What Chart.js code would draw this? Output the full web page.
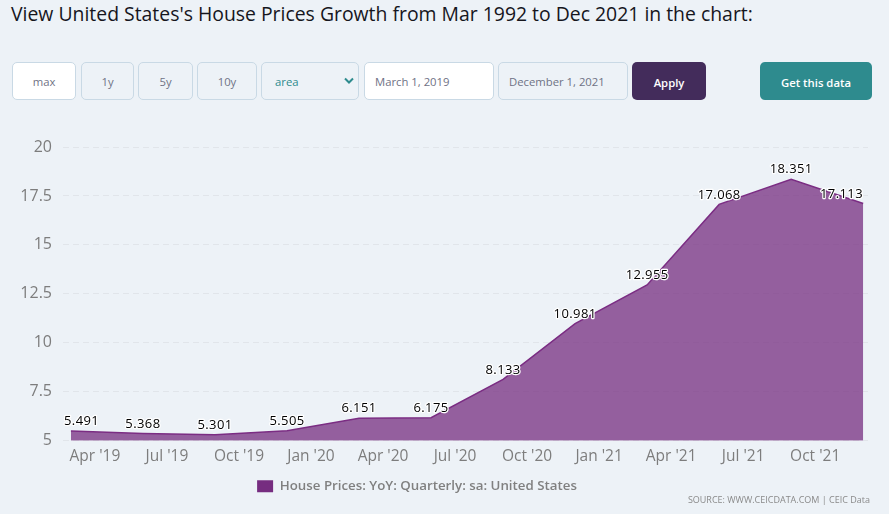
<!DOCTYPE html>
<html>
<head>
<meta charset="utf-8">
<title>House Prices Growth</title>
<script src="https://cdn.jsdelivr.net/npm/chart.js@4"></script>
<style>
  html, body { margin: 0; padding: 0; background: #edf2f7; }
  body { position: relative; width: 889px; height: 514px; overflow: hidden; font-family: "Open Sans", sans-serif; }
  h1 { position: absolute; left: 11px; top: 1px; margin: 0; font-size: 19.4px; line-height: 26px; font-weight: 500; color: #16161d; white-space: nowrap; }
  .ctl { position: absolute; top: 62px; height: 38px; box-sizing: border-box; border: 1px solid #c9d9e5; border-radius: 5px;
         font-size: 11.3px; line-height: 37px; text-align: center; color: #6f7285; }
  .white { background: #fff; }
  .left { text-align: left; padding-left: 10px; }
  .solid { border: 0; color: #fff; font-weight: 600; line-height: 41px; }
  #chart { position: absolute; left: 0; top: 120px; }
  #source { position: absolute; right: 19px; top: 493px; font-size: 9px; color: #8a8a8a; white-space: nowrap; }
</style>
</head>
<body>
<h1>View United States's House Prices Growth from Mar 1992 to Dec 2021 in the chart:</h1>
<div class="ctl white" style="left:12px;width:64px">max</div>
<div class="ctl" style="left:81px;width:53px">1y</div>
<div class="ctl" style="left:138px;width:55px">5y</div>
<div class="ctl" style="left:197px;width:60px">10y</div>
<div class="ctl left" style="left:261px;width:98px;color:#2e8b8e;padding-left:13px">area
  <svg width="12" height="8" viewBox="0 0 12 8" style="position:absolute;right:3px;top:14px"><path d="M2 1.5 L6 5.5 L10 1.5" fill="none" stroke="#2e8b8e" stroke-width="2"/></svg>
</div>
<div class="ctl white left" style="left:364px;width:130px">March 1, 2019</div>
<div class="ctl left" style="left:498px;width:130px">December 1, 2021</div>
<div class="ctl solid" style="left:632px;width:74px;background:#432c5b">Apply</div>
<div class="ctl solid" style="left:760px;width:112px;background:#2e8b8e">Get this data</div>
<canvas id="chart" width="889" height="394"></canvas>
<div id="source">SOURCE: WWW.CEICDATA.COM | CEIC Data</div>

<script>
// months counted from Mar 2019
const pointMonths = [0, 3, 6, 9, 12, 15, 18, 21, 24, 27, 30, 33];
const seriesValues = [5.491, 5.368, 5.301, 5.505, 6.151, 6.175, 8.133, 10.981, 12.955, 17.068, 18.351, 17.113];
const tickMonths = [1, 4, 7, 10, 13, 16, 19, 22, 25, 28, 31];
const tickLabels = ["Apr '19", "Jul '19", "Oct '19", "Jan '20", "Apr '20", "Jul '20", "Oct '20", "Jan '21", "Apr '21", "Jul '21", "Oct '21"];
const yTicks = [5, 7.5, 10, 12.5, 15, 17.5, 20];
const seriesName = 'House Prices: YoY: Quarterly: sa: United States';

// etiquetas de valor con halo blanco, ajustadas para no salirse del área
const pointLabels = {
    id: 'pointLabels',
    afterDatasetsDraw(chart) {
        const { ctx, chartArea } = chart;
        const meta = chart.getDatasetMeta(0);
        ctx.save();
        ctx.font = '13px "Open Sans", sans-serif';
        ctx.letterSpacing = '0.4px';
        ctx.textAlign = 'center';
        ctx.textBaseline = 'bottom';
        ctx.lineJoin = 'round';
        meta.data.forEach((pt, i) => {
            const text = seriesValues[i].toFixed(3);
            const half = ctx.measureText(text).width / 2;
            const x = Math.min(Math.max(pt.x, half + chartArea.left + 1), chartArea.right - half - 5);
            ctx.lineWidth = 2.5;
            ctx.strokeStyle = '#fff';
            ctx.strokeText(text, x, pt.y - 3);
            ctx.fillStyle = '#000';
            ctx.fillText(text, x, pt.y - 3);
        });
        ctx.restore();
    }
};

// la leyenda original no está centrada en el lienzo
const shiftLegend = {
    id: 'shiftLegend',
    afterLayout(chart) {
        chart.legend.left -= 17;
        chart.legend.right -= 17;
        chart.legend.top -= 3;
        chart.legend.bottom -= 3;
    }
};

new Chart(document.querySelector('#chart'), {
    type: 'line',
    data: {
        datasets: [{
            label: seriesName,
            data: pointMonths.map((m, i) => ({ x: m, y: seriesValues[i] })),
            borderColor: '#7b2d83',
            borderWidth: 1.5,
            backgroundColor: 'rgba(118,45,128,0.75)',
            fill: 'start',
            pointRadius: 0,
            tension: 0
        }]
    },
    options: {
        responsive: false,
        animation: false,
        layout: { padding: { top: 27, right: 21, bottom: 8 } },
        plugins: {
            tooltip: { enabled: false },
            legend: {
                position: 'bottom',
                labels: {
                    boxWidth: 16,
                    boxHeight: 12,
                    padding: 10,
                    font: { family: '"Open Sans", sans-serif', size: 13.3, weight: '600' },
                    generateLabels: () => [{ text: seriesName, fillStyle: '#762d80', strokeStyle: '#762d80', lineWidth: 0, fontColor: '#808080' }]
                }
            }
        },
        scales: {
            x: {
                type: 'linear',
                min: -0.33,
                max: 33.2,
                afterBuildTicks: (axis) => { axis.ticks = tickMonths.map(v => ({ value: v })); },
                afterFit: (axis) => { axis.height = 32; },
                grid: { display: false },
                border: { display: false },
                ticks: {
                    autoSkip: false,
                    maxRotation: 0,
                    padding: -1,
                    color: '#7d7d7d',
                    font: { family: '"Open Sans", sans-serif', size: 15.5 },
                    callback: (v) => tickLabels[tickMonths.indexOf(v)]
                }
            },
            y: {
                min: 5,
                max: 20,
                afterBuildTicks: (axis) => { axis.ticks = yTicks.map(v => ({ value: v })); },
                afterFit: (axis) => { axis.width = 63; },
                grid: { color: '#e1e5ea', lineWidth: 1, drawTicks: false },
                border: { display: false, dash: [6, 4] },
                ticks: {
                    padding: 11,
                    color: '#7d7d7d',
                    font: { family: '"Open Sans", sans-serif', size: 16 },
                    callback: (v) => String(v)
                }
            }
        }
    },
    plugins: [pointLabels, shiftLegend]
});
</script>
</body>
</html>
